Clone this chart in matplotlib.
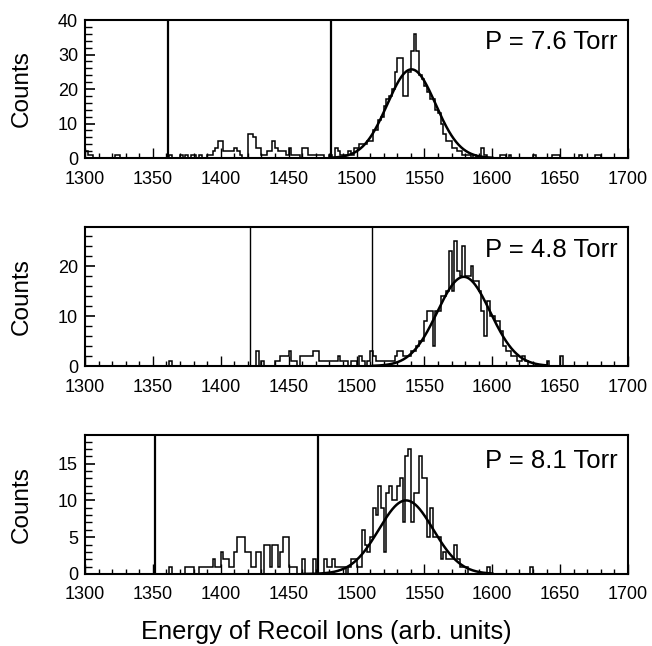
import numpy as np
import matplotlib
matplotlib.use("Agg")
import matplotlib.pyplot as plt
from matplotlib.ticker import MultipleLocator

plt.rcParams['font.family'] = ['Liberation Sans', 'DejaVu Sans']

# Histogram binning: 2-unit bins from 1300 to 1700
bin_start = 1300
bin_width = 2
n_bins = 200

# Counts per bin, ten bins (20 energy units) per row
counts_76 = [
    2, 1, 1, 0, 0, 0, 0, 0, 0, 0,   # 1300
    0, 1, 1, 0, 0, 0, 0, 0, 0, 0,   # 1320
    0, 0, 0, 0, 0, 0, 0, 0, 0, 0,   # 1340
    0, 1, 0, 0, 0, 1, 0, 1, 0, 1,   # 1360
    1, 0, 1, 0, 0, 1, 1, 2, 3, 5,   # 1380
    5, 2, 2, 2, 2, 3, 2, 1, 0, 0,   # 1400
    7, 7, 6, 3, 3, 1, 1, 2, 2, 5,   # 1420
    3, 2, 2, 2, 1, 3, 1, 1, 1, 0,   # 1440
    3, 3, 1, 1, 1, 1, 1, 1, 0, 0,   # 1460
    1, 0, 3, 2, 1, 1, 1, 2, 1, 3,   # 1480
    3, 4, 4, 4, 5, 5, 8, 8, 11, 12,  # 1500
    15, 17, 18, 20, 25, 29, 29, 18, 18, 25,  # 1520
    31, 36, 31, 24, 23, 21, 19, 17, 17, 14,  # 1540
    13, 10, 7, 5, 5, 3, 3, 2, 2, 1,  # 1560
    1, 1, 0, 1, 0, 0, 3, 1, 0, 0,   # 1580
    0, 0, 0, 1, 1, 0, 1, 0, 0, 0,   # 1600
    0, 0, 0, 0, 0, 1, 0, 0, 0, 0,   # 1620
    0, 0, 1, 1, 1, 0, 0, 0, 0, 0,   # 1640
    0, 0, 1, 0, 0, 0, 0, 0, 1, 1,   # 1660
    0, 0, 0, 0, 0, 0, 0, 0, 0, 0,   # 1680
]

counts_48 = [
    0, 0, 0, 0, 0, 0, 0, 0, 0, 0,   # 1300
    0, 0, 0, 0, 0, 0, 0, 0, 0, 0,   # 1320
    0, 0, 0, 0, 0, 0, 0, 0, 0, 0,   # 1340
    0, 1, 0, 0, 0, 0, 0, 0, 0, 0,   # 1360
    0, 0, 0, 0, 0, 0, 0, 0, 0, 0,   # 1380
    0, 0, 0, 0, 0, 0, 0, 0, 0, 0,   # 1400
    0, 0, 0, 3, 0, 1, 0, 0, 0, 0,   # 1420
    1, 1, 2, 2, 2, 3, 1, 1, 0, 2,   # 1440
    2, 2, 2, 2, 3, 3, 1, 1, 1, 1,   # 1460
    1, 1, 1, 2, 1, 1, 1, 0, 1, 1,   # 1480
    0, 2, 1, 0, 1, 3, 2, 1, 1, 1,   # 1500
    1, 1, 1, 1, 2, 3, 3, 2, 2, 2,   # 1520
    3, 3, 4, 5, 5, 9, 11, 11, 4, 11,  # 1540
    11, 14, 14, 15, 23, 15, 25, 19, 18, 24,  # 1560
    18, 18, 20, 17, 17, 15, 11, 6, 13, 10,  # 1580
    10, 9, 9, 7, 4, 3, 3, 2, 2, 1,  # 1600
    1, 2, 1, 0, 0, 0, 0, 0, 0, 0,   # 1620
    1, 0, 0, 0, 0, 2, 0, 0, 0, 0,   # 1640
    0, 0, 0, 0, 0, 0, 0, 0, 0, 0,   # 1660
    0, 0, 0, 0, 0, 0, 0, 0, 0, 0,   # 1680
]

counts_81 = [
    0, 0, 0, 0, 0, 0, 0, 0, 0, 0,   # 1300
    0, 0, 0, 0, 0, 0, 0, 0, 0, 0,   # 1320
    0, 0, 0, 0, 0, 0, 0, 0, 0, 0,   # 1340
    0, 1, 0, 0, 0, 0, 0, 1, 1, 1,   # 1360
    0, 0, 1, 1, 1, 1, 1, 2, 1, 1,   # 1380
    3, 2, 2, 1, 1, 3, 5, 5, 5, 3,   # 1400
    3, 1, 1, 3, 3, 0, 4, 4, 1, 4,   # 1420
    4, 1, 3, 5, 5, 1, 1, 1, 0, 0,   # 1440
    2, 0, 0, 0, 2, 0, 0, 0, 2, 1,   # 1460
    1, 2, 1, 1, 1, 1, 0, 1, 2, 2,   # 1480
    1, 1, 6, 4, 3, 5, 9, 8, 12, 9,  # 1500
    3, 11, 12, 10, 10, 12, 13, 7, 16, 17,  # 1520
    7, 11, 11, 16, 13, 13, 5, 9, 5, 5,  # 1540
    5, 2, 3, 2, 2, 2, 4, 2, 1, 1,   # 1560
    1, 0, 0, 0, 0, 0, 0, 0, 1, 0,   # 1580
    0, 0, 0, 0, 0, 0, 0, 0, 0, 0,   # 1600
    0, 0, 0, 0, 1, 0, 0, 0, 0, 0,   # 1620
    0, 0, 0, 0, 0, 0, 0, 0, 0, 0,   # 1640
    0, 0, 0, 0, 0, 0, 0, 0, 0, 0,   # 1660
    0, 0, 0, 0, 0, 0, 0, 0, 0, 0,   # 1680
]

# Gaussian fits: amplitude, centre, sigma, drawn range
fit_76 = (25.7, 1540.5, 17.8, 1481, 1600)
fit_48 = (17.9, 1579.0, 19.5, 1512, 1640)
fit_81 = (10.0, 1536.5, 20.0, 1460, 1600)

# Integration window markers
window_76 = [1361, 1481]
window_48 = [1421.5, 1511.5]
window_81 = [1351.5, 1471.5]

pressure_labels = ["P = 7.6 Torr", "P = 4.8 Torr", "P = 8.1 Torr"]
y_limits = [40, 27.9, 18.9]
y_major = [10, 10, 5]
y_minor = [2, 2, 1]
window_lw = [1.6, 1.0, 1.6]

edges = bin_start + bin_width * np.arange(n_bins + 1)

fig = plt.figure(figsize=(6.52, 6.46), dpi=100)
ax_rects = [
    [0.1304, 0.7554, 0.8328, 0.2136],
    [0.1304, 0.4334, 0.8328, 0.2152],
    [0.1304, 0.1115, 0.8328, 0.2152],
]
text_y = [0.84, 0.835, 0.81]

datasets = [counts_76, counts_48, counts_81]
fits = [fit_76, fit_48, fit_81]
windows = [window_76, window_48, window_81]

for i in range(3):
    ax = fig.add_axes(ax_rects[i])
    ax.stairs(datasets[i], edges, color='black', lw=1.1, baseline=0)
    amp, mu, sig, lo, hi = fits[i]
    xf = np.linspace(lo, hi, 400)
    ax.plot(xf, amp * np.exp(-0.5 * ((xf - mu) / sig) ** 2), color='black', lw=1.8)
    for xv in windows[i]:
        ax.axvline(xv, color='black', lw=window_lw[i])
    ax.set_xlim(1300, 1700)
    ax.set_ylim(0, y_limits[i])
    ax.xaxis.set_major_locator(MultipleLocator(50))
    ax.xaxis.set_minor_locator(MultipleLocator(10))
    ax.yaxis.set_major_locator(MultipleLocator(y_major[i]))
    ax.yaxis.set_minor_locator(MultipleLocator(y_minor[i]))
    ax.tick_params(axis='x', which='major', direction='in', length=7, width=1.0,
                   labelsize=13, pad=9, top=False)
    ax.tick_params(axis='x', which='minor', direction='in', length=3.5, width=1.0, top=False)
    ax.tick_params(axis='y', which='major', direction='in', length=7.5, width=1.2,
                   labelsize=13, pad=5, right=False)
    ax.tick_params(axis='y', which='minor', direction='in', length=5, width=1.0, right=False)
    for sp in ax.spines.values():
        sp.set_linewidth(1.5)
    ax.text(0.98, text_y[i], pressure_labels[i], transform=ax.transAxes,
            ha='right', va='center', fontsize=18.5)
    # y label placed at a fixed figure position, centred on the panel
    rect = ax_rects[i]
    fig.text(0.034, rect[1] + rect[3] / 2, "Counts", rotation=90,
             ha='center', va='center', fontsize=17.5)

fig.text(0.5, 0.022, "Energy of Recoil Ions (arb. units)", ha='center', va='center',
         fontsize=18.3)

fig.savefig("out.png", dpi=100)
